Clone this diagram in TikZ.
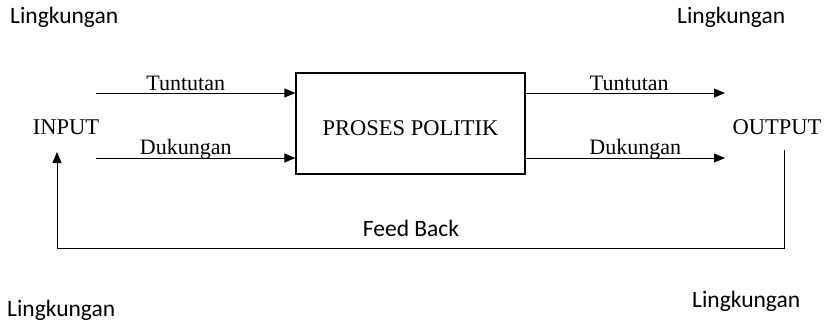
\documentclass[tikz,border=0pt]{standalone}
\usepackage{fontspec}
\setmainfont{Liberation Serif}
\newfontfamily\calib{Carlito}
\usetikzlibrary{arrows.meta}
\begin{document}
\begin{tikzpicture}[x=1pt,y=-1pt,
  conn/.style={line width=0.9pt,-{Triangle[length=11pt,width=9pt]}},
  serif/.style={font=\fontsize{22.5}{26}\selectfont,inner sep=0pt},
  envtext/.style={font=\calib\fontsize{23.5}{27}\selectfont,inner sep=0pt},
  lbl/.style={font=\fontsize{22}{26}\selectfont,inner sep=0pt,anchor=base}]
\useasboundingbox (0,0) rectangle (830,322);

% surrounding environment labels
\node[envtext,anchor=base west] (env1) at (10,23) {Lingkungan};
\node[envtext,anchor=base west] (env2) at (677,23) {Lingkungan};
\node[envtext,anchor=base west] (env3) at (7,316) {Lingkungan};
\node[envtext,anchor=base west] (env4) at (692,307) {Lingkungan};

% main blocks
\node[draw,line width=1.2pt,minimum width=229pt,minimum height=101pt] (proc) at (410.5,123.5) {};
\node[serif,anchor=base] (proctext) at (proc.center |- 0,135) {PROSES POLITIK};
\node[serif,anchor=base] (in) at (66,134) {INPUT};
\node[serif,anchor=base] (out) at (777,134) {OUTPUT};

% connection points
\coordinate (a1) at (96,93);
\coordinate (a2) at (96,158);
\coordinate (b1) at (725,93);
\coordinate (b2) at (725,158);
\coordinate (fbR) at (784,150);
\coordinate (fbRb) at (784,248);
\coordinate (fbLb) at (57,248);
\coordinate (fbL) at (57,152);

% input flows
\draw[conn] (a1) -- (a1 -| proc.west) node[lbl,pos=0.45,yshift=3pt] (t1) {Tuntutan};
\draw[conn] (a2) -- (a2 -| proc.west) node[lbl,pos=0.45,yshift=4pt] (d1) {Dukungan};

% output flows
\draw[conn] (b1 -| proc.east) -- (b1) node[lbl,pos=0.52,yshift=3pt] (t2) {Tuntutan};
\draw[conn] (b2 -| proc.east) -- (b2) node[lbl,pos=0.55,yshift=4pt] (d2) {Dukungan};

% feedback loop
\draw[conn] (fbR) -- (fbRb) -- (fbLb) -- (fbL);
\node[envtext,anchor=base] (fb) at (411,236) {Feed Back};
\end{tikzpicture}
\end{document}
